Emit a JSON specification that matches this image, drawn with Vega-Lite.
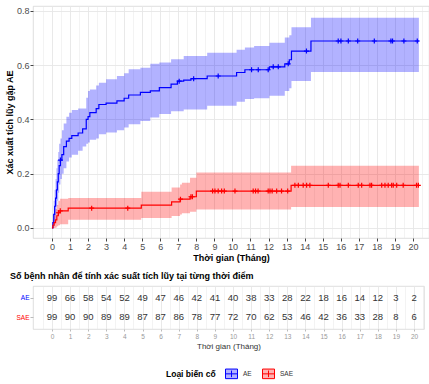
{
"$schema": "https://vega.github.io/schema/vega-lite/v6.json",
"padding": {"left": 5, "top": 5, "right": 0, "bottom": 0},
"spacing": 8,
"config": {"font": "Liberation Sans", "view": {"stroke": "#D6D6D6", "strokeWidth": 0.8},
  "axis": {"domain": false, "gridColor": "#E6E6E6", "tickColor": "#444444", "labelColor": "#4D4D4D", "titleColor": "#000000", "titleFontWeight": "bold", "titleFontSize": 9, "labelFontSize": 9}},
"datasets": {
 "curve": [
  {"group":"AE","t":0,"est":0,"lo":0,"hi":0},
  {"group":"AE","t":0.05,"est":0.02,"lo":0,"hi":0.05},
  {"group":"AE","t":0.1,"est":0.05,"lo":0.01,"hi":0.1},
  {"group":"AE","t":0.15,"est":0.08,"lo":0.03,"hi":0.14},
  {"group":"AE","t":0.2,"est":0.11,"lo":0.05,"hi":0.18},
  {"group":"AE","t":0.25,"est":0.14,"lo":0.08,"hi":0.22},
  {"group":"AE","t":0.3,"est":0.17,"lo":0.1,"hi":0.25},
  {"group":"AE","t":0.35,"est":0.2,"lo":0.13,"hi":0.28},
  {"group":"AE","t":0.4,"est":0.23,"lo":0.16,"hi":0.31},
  {"group":"AE","t":0.47,"est":0.25,"lo":0.18,"hi":0.33},
  {"group":"AE","t":0.55,"est":0.27,"lo":0.2,"hi":0.36},
  {"group":"AE","t":0.65,"est":0.3,"lo":0.22,"hi":0.385},
  {"group":"AE","t":0.8,"est":0.32,"lo":0.245,"hi":0.41},
  {"group":"AE","t":0.95,"est":0.33,"lo":0.26,"hi":0.425},
  {"group":"AE","t":1.1,"est":0.34,"lo":0.27,"hi":0.435},
  {"group":"AE","t":1.45,"est":0.35,"lo":0.285,"hi":0.44},
  {"group":"AE","t":1.7,"est":0.365,"lo":0.3,"hi":0.44},
  {"group":"AE","t":1.9,"est":0.4,"lo":0.31,"hi":0.48},
  {"group":"AE","t":2.0,"est":0.41,"lo":0.315,"hi":0.505},
  {"group":"AE","t":2.1,"est":0.425,"lo":0.325,"hi":0.51},
  {"group":"AE","t":2.45,"est":0.44,"lo":0.33,"hi":0.525},
  {"group":"AE","t":2.6,"est":0.455,"lo":0.345,"hi":0.535},
  {"group":"AE","t":3.0,"est":0.46,"lo":0.352,"hi":0.548},
  {"group":"AE","t":3.6,"est":0.468,"lo":0.36,"hi":0.56},
  {"group":"AE","t":4.0,"est":0.478,"lo":0.37,"hi":0.57},
  {"group":"AE","t":4.25,"est":0.49,"lo":0.382,"hi":0.585},
  {"group":"AE","t":4.9,"est":0.5,"lo":0.394,"hi":0.59},
  {"group":"AE","t":5.45,"est":0.505,"lo":0.407,"hi":0.605},
  {"group":"AE","t":5.95,"est":0.517,"lo":0.42,"hi":0.61},
  {"group":"AE","t":6.6,"est":0.53,"lo":0.43,"hi":0.622},
  {"group":"AE","t":6.95,"est":0.541,"lo":0.43,"hi":0.622},
  {"group":"AE","t":7.3,"est":0.545,"lo":0.437,"hi":0.634},
  {"group":"AE","t":7.7,"est":0.55,"lo":0.437,"hi":0.634},
  {"group":"AE","t":8.6,"est":0.56,"lo":0.45,"hi":0.646},
  {"group":"AE","t":10.23,"est":0.573,"lo":0.465,"hi":0.657},
  {"group":"AE","t":10.69,"est":0.583,"lo":0.475,"hi":0.665},
  {"group":"AE","t":11.2,"est":0.583,"lo":0.478,"hi":0.671},
  {"group":"AE","t":12.05,"est":0.594,"lo":0.487,"hi":0.683},
  {"group":"AE","t":12.9,"est":0.605,"lo":0.505,"hi":0.702},
  {"group":"AE","t":13.15,"est":0.62,"lo":0.515,"hi":0.71},
  {"group":"AE","t":13.27,"est":0.652,"lo":0.542,"hi":0.74},
  {"group":"AE","t":14.35,"est":0.689,"lo":0.575,"hi":0.775},
  {"group":"AE","t":20.33,"est":0.689,"lo":0.575,"hi":0.775},
  {"group":"SAE","t":0,"est":0,"lo":0,"hi":0},
  {"group":"SAE","t":0.05,"est":0.01,"lo":0,"hi":0.03},
  {"group":"SAE","t":0.12,"est":0.02,"lo":0,"hi":0.05},
  {"group":"SAE","t":0.2,"est":0.03,"lo":0.002,"hi":0.07},
  {"group":"SAE","t":0.27,"est":0.045,"lo":0.006,"hi":0.085},
  {"group":"SAE","t":0.35,"est":0.056,"lo":0.01,"hi":0.1},
  {"group":"SAE","t":0.45,"est":0.063,"lo":0.014,"hi":0.108},
  {"group":"SAE","t":0.9,"est":0.073,"lo":0.03,"hi":0.11},
  {"group":"SAE","t":4.95,"est":0.084,"lo":0.037,"hi":0.133},
  {"group":"SAE","t":6.63,"est":0.096,"lo":0.044,"hi":0.149},
  {"group":"SAE","t":7.1,"est":0.106,"lo":0.05,"hi":0.16},
  {"group":"SAE","t":7.2,"est":0.106,"lo":0.054,"hi":0.167},
  {"group":"SAE","t":7.65,"est":0.115,"lo":0.06,"hi":0.185},
  {"group":"SAE","t":8.0,"est":0.136,"lo":0.068,"hi":0.204},
  {"group":"SAE","t":13.25,"est":0.157,"lo":0.077,"hi":0.229},
  {"group":"SAE","t":20.33,"est":0.157,"lo":0.077,"hi":0.229}
 ],
 "censor": [
  {"group":"AE","t":0.47,"est":0.25},{"group":"AE","t":7.05,"est":0.541},{"group":"AE","t":7.85,"est":0.55},
  {"group":"AE","t":9.21,"est":0.56},{"group":"AE","t":11.06,"est":0.583},{"group":"AE","t":11.43,"est":0.583},
  {"group":"AE","t":11.98,"est":0.583},{"group":"AE","t":12.26,"est":0.594},{"group":"AE","t":12.54,"est":0.594},
  {"group":"AE","t":13.09,"est":0.605},{"group":"AE","t":14.1,"est":0.652},{"group":"AE","t":15.86,"est":0.689},
  {"group":"AE","t":16.01,"est":0.689},{"group":"AE","t":16.42,"est":0.689},{"group":"AE","t":16.94,"est":0.689},
  {"group":"AE","t":17.86,"est":0.689},{"group":"AE","t":18.78,"est":0.689},{"group":"AE","t":18.87,"est":0.689},
  {"group":"AE","t":19.5,"est":0.689},{"group":"AE","t":20.24,"est":0.689},
  {"group":"SAE","t":0.36,"est":0.056},{"group":"SAE","t":0.46,"est":0.063},{"group":"SAE","t":2.2,"est":0.073},
  {"group":"SAE","t":4.2,"est":0.073},{"group":"SAE","t":7.12,"est":0.106},{"group":"SAE","t":7.7,"est":0.115},
  {"group":"SAE","t":7.78,"est":0.115},{"group":"SAE","t":8.9,"est":0.136},{"group":"SAE","t":9.03,"est":0.136},
  {"group":"SAE","t":9.21,"est":0.136},{"group":"SAE","t":9.4,"est":0.136},{"group":"SAE","t":9.55,"est":0.136},
  {"group":"SAE","t":10.14,"est":0.136},{"group":"SAE","t":11.15,"est":0.136},{"group":"SAE","t":11.28,"est":0.136},
  {"group":"SAE","t":11.42,"est":0.136},{"group":"SAE","t":11.98,"est":0.136},{"group":"SAE","t":12.08,"est":0.136},
  {"group":"SAE","t":12.2,"est":0.136},{"group":"SAE","t":12.45,"est":0.136},{"group":"SAE","t":12.72,"est":0.136},
  {"group":"SAE","t":13.06,"est":0.136},{"group":"SAE","t":13.46,"est":0.157},{"group":"SAE","t":13.65,"est":0.157},
  {"group":"SAE","t":13.92,"est":0.157},{"group":"SAE","t":14.11,"est":0.157},{"group":"SAE","t":14.29,"est":0.157},
  {"group":"SAE","t":15.31,"est":0.157},{"group":"SAE","t":15.86,"est":0.157},{"group":"SAE","t":15.96,"est":0.157},
  {"group":"SAE","t":16.42,"est":0.157},{"group":"SAE","t":16.97,"est":0.157},{"group":"SAE","t":17.16,"est":0.157},
  {"group":"SAE","t":17.62,"est":0.157},{"group":"SAE","t":17.71,"est":0.157},{"group":"SAE","t":18.27,"est":0.157},
  {"group":"SAE","t":18.45,"est":0.157},{"group":"SAE","t":18.63,"est":0.157},{"group":"SAE","t":18.82,"est":0.157},
  {"group":"SAE","t":18.91,"est":0.157},{"group":"SAE","t":19.1,"est":0.157},{"group":"SAE","t":19.46,"est":0.157},
  {"group":"SAE","t":20.2,"est":0.157},{"group":"SAE","t":20.3,"est":0.157}
 ],
 "risk": [
  {"group":"AE","t":0,"n":99},{"group":"AE","t":1,"n":66},{"group":"AE","t":2,"n":58},{"group":"AE","t":3,"n":54},
  {"group":"AE","t":4,"n":52},{"group":"AE","t":5,"n":49},{"group":"AE","t":6,"n":47},{"group":"AE","t":7,"n":46},
  {"group":"AE","t":8,"n":42},{"group":"AE","t":9,"n":41},{"group":"AE","t":10,"n":40},{"group":"AE","t":11,"n":38},
  {"group":"AE","t":12,"n":33},{"group":"AE","t":13,"n":28},{"group":"AE","t":14,"n":22},{"group":"AE","t":15,"n":18},
  {"group":"AE","t":16,"n":16},{"group":"AE","t":17,"n":14},{"group":"AE","t":18,"n":12},{"group":"AE","t":19,"n":3},
  {"group":"AE","t":20,"n":2},
  {"group":"SAE","t":0,"n":99},{"group":"SAE","t":1,"n":90},{"group":"SAE","t":2,"n":90},{"group":"SAE","t":3,"n":89},
  {"group":"SAE","t":4,"n":89},{"group":"SAE","t":5,"n":87},{"group":"SAE","t":6,"n":87},{"group":"SAE","t":7,"n":86},
  {"group":"SAE","t":8,"n":78},{"group":"SAE","t":9,"n":77},{"group":"SAE","t":10,"n":72},{"group":"SAE","t":11,"n":70},
  {"group":"SAE","t":12,"n":62},{"group":"SAE","t":13,"n":53},{"group":"SAE","t":14,"n":46},{"group":"SAE","t":15,"n":42},
  {"group":"SAE","t":16,"n":36},{"group":"SAE","t":17,"n":33},{"group":"SAE","t":18,"n":28},{"group":"SAE","t":19,"n":8},
  {"group":"SAE","t":20,"n":6}
 ]
},
"vconcat": [
 {
  "width": 396, "height": 232,
  "encoding": {
   "x": {"field":"t","type":"quantitative","scale":{"domain":[-1.05,20.89],"nice":false,"zero":false},
     "axis": {"title":"Thời gian (Tháng)","values":[-0.5,0,0.5,1,1.5,2,2.5,3,3.5,4,4.5,5,5.5,6,6.5,7,7.5,8,8.5,9,9.5,10,10.5,11,11.5,12,12.5,13,13.5,14,14.5,15,15.5,16,16.5,17,17.5,18,18.5,19,19.5,20,20.5],
       "labelExpr":"datum.value % 1 == 0 ? format(datum.value, 'd') : ''",
       "tickSize":3,"labelPadding":1,"titlePadding":2,
       "tickOpacity":{"condition":{"test":"datum.value % 1 != 0","value":0},"value":1},
       "gridWidth":{"condition":{"test":"datum.value % 1 != 0","value":0.5},"value":0.9}}},
   "color": {"field":"group","type":"nominal","scale":{"domain":["AE","SAE"],"range":["#0000FF","#FF0000"]},
     "legend": {"title":"Loại biến cố","orient":"none","legendX":133,"legendY":361,"direction":"horizontal","titleOrient":"left",
       "titleFontSize":8.5,"titleFontWeight":"bold","titleColor":"#000000","titlePadding":9,"titleBaseline":"middle",
       "labelFontSize":6.5,"labelColor":"#333333","labelOffset":5,"columnPadding":8,
       "symbolType":"M-1,-0.8H1V0.8H-1Z M-1,0H1 M0,-0.55V0.55","symbolSize":144,"symbolStrokeWidth":1,
       "encode":{"symbols":{"update":{"fill":{"scale":"color","field":"value"},"fillOpacity":{"value":0.3},"stroke":{"scale":"color","field":"value"},"strokeOpacity":{"value":1},"opacity":{"value":1}}}}}}
  },
  "layer": [
   {"data":{"name":"curve"},"mark":{"type":"area","interpolate":"step-after","opacity":0.3},
    "encoding":{"y":{"field":"lo","type":"quantitative","scale":{"domain":[-0.037,0.818],"nice":false,"zero":false},
      "axis":{"title":"Xác xuất tích lũy gặp AE","values":[0,0.1,0.2,0.3,0.4,0.5,0.6,0.7,0.8],
        "labelExpr":"round(datum.value*10) % 2 == 0 ? format(datum.value, '.1f') : ''",
        "tickSize":3,"labelPadding":1,"titlePadding":2,
        "tickOpacity":{"condition":{"test":"round(datum.value*10) % 2 != 0","value":0},"value":1},
        "gridWidth":{"condition":{"test":"round(datum.value*10) % 2 != 0","value":0.5},"value":0.9}}},
     "y2":{"field":"hi"}}},
   {"data":{"name":"curve"},"mark":{"type":"line","interpolate":"step-after","strokeWidth":1.2},
    "encoding":{"y":{"field":"est","type":"quantitative"}}},
   {"data":{"name":"censor"},"mark":{"type":"point","shape":"M-1,0H1M0,-1V1","size":25,"filled":false,"strokeWidth":1.2,"opacity":1},
    "encoding":{"y":{"field":"est","type":"quantitative"}}}
  ]
 },
 {
  "width": 391, "height": 43,
  "title": {"text":"Số bệnh nhân để tính xác suất tích lũy tại từng thời điểm","anchor":"start","frame":"group","dx":-23,"fontSize":9,"fontWeight":"bold","offset":5,"color":"#000000"},
  "data": {"name":"risk"},
  "mark": {"type":"text","fontSize":9.5,"color":"#333333"},
  "encoding": {
   "x": {"field":"t","type":"quantitative","scale":{"domain":[-1.05,20.55],"nice":false,"zero":false},
     "axis":{"title":"Thời gian (Tháng)","titleFontWeight":"normal","titleFontSize":8,"titleColor":"#333333","labelFontSize":6.5,"labelColor":"#999999",
       "values":[-0.5,0,0.5,1,1.5,2,2.5,3,3.5,4,4.5,5,5.5,6,6.5,7,7.5,8,8.5,9,9.5,10,10.5,11,11.5,12,12.5,13,13.5,14,14.5,15,15.5,16,16.5,17,17.5,18,18.5,19,19.5,20,20.5],
       "labelExpr":"datum.value % 1 == 0 ? format(datum.value, 'd') : ''",
       "tickSize":2,"tickColor":"#BBBBBB","labelPadding":2,"titlePadding":3,
       "tickOpacity":{"condition":{"test":"datum.value % 1 != 0","value":0},"value":1},
       "gridWidth":{"condition":{"test":"datum.value % 1 != 0","value":0.5},"value":0.9}}},
   "y": {"field":"group","type":"nominal","scale":{"type":"point","padding":0.6,"domain":["AE","SAE"]},
     "axis":{"title":null,"labelFontSize":6.5,"tickSize":3,"tickColor":"#BBBBBB","labelPadding":1,
       "labelColor":{"condition":{"test":"datum.value == 'AE'","value":"#0000FF"},"value":"#FF0000"},"gridWidth":0.9}},
   "text": {"field":"n","type":"quantitative"}
  }
 }
]
}
